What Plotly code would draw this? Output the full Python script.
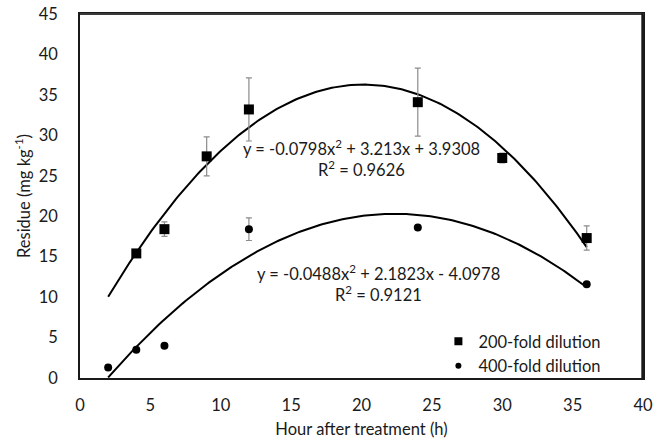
import numpy as np
import plotly.graph_objects as go

# Data
hours_200 = [4, 6, 9, 12, 24, 30, 36]
residue_200 = [15.4, 18.4, 27.4, 33.2, 34.1, 27.2, 17.3]
err_200 = [0.4, 0.9, 2.4, 3.9, 4.2, 0.6, 1.5]

hours_400 = [2, 4, 6, 12, 24, 36]
residue_400 = [1.3, 3.5, 4.0, 18.4, 18.6, 11.6]
err_400 = [0.0, 0.0, 0.0, 1.4, 0.0, 0.0]

# Trendline coefficients (a*x^2 + b*x + c) as shown on chart
coef_200 = [-0.0798, 3.213, 3.9308]
coef_400 = [-0.0488, 2.1823, -4.0978]
trend_range = [2, 36]

eq_200 = ["y = -0.0798x<sup>2</sup> + 3.213x + 3.9308", "R<sup>2</sup> = 0.9626"]
eq_400 = ["y = -0.0488x<sup>2</sup> + 2.1823x - 4.0978", "R<sup>2</sup> = 0.9121"]

x_ticks = [0, 5, 10, 15, 20, 25, 30, 35, 40]
y_ticks = [0, 5, 10, 15, 20, 25, 30, 35, 40, 45]

FONT = "Lato, 'Open Sans', sans-serif"
FS = 16.5
TXT = "#1a1a1a"

xt = np.linspace(trend_range[0], trend_range[1], 200)
def poly(c, x):
    return c[0] * x ** 2 + c[1] * x + c[2]

fig = go.Figure()
fig.add_trace(go.Scatter(x=xt, y=poly(coef_200, xt), mode="lines",
                         line=dict(color="black", width=2), showlegend=False, hoverinfo="skip"))
fig.add_trace(go.Scatter(x=xt, y=poly(coef_400, xt), mode="lines",
                         line=dict(color="black", width=2), showlegend=False, hoverinfo="skip"))

fig.add_trace(go.Scatter(
    x=hours_200, y=residue_200, mode="markers", name="200-fold dilution", showlegend=False,
    marker=dict(symbol="square", size=10, color="black"),
    error_y=dict(type="data", array=err_200, visible=True, color="#8c8c8c", thickness=1.2, width=3),
))
fig.add_trace(go.Scatter(
    x=hours_400, y=residue_400, mode="markers", name="400-fold dilution", showlegend=False,
    marker=dict(symbol="circle", size=8, color="black"),
    error_y=dict(type="data", array=err_400, visible=True, color="#8c8c8c", thickness=1.2, width=3),
))
# legend entries (smaller symbols, as in the reference legend)
fig.add_trace(go.Scatter(x=[None], y=[None], mode="markers", name="200-fold dilution",
                         marker=dict(symbol="square", size=8, color="black")))
fig.add_trace(go.Scatter(x=[None], y=[None], mode="markers", name="400-fold dilution",
                         marker=dict(symbol="circle", size=6, color="black")))

ann_font = dict(family=FONT, size=FS, color=TXT)
fig.add_annotation(x=20.0, y=28.4, text=eq_200[0], showarrow=False, font=ann_font)
fig.add_annotation(x=20.0, y=25.8, text=eq_200[1], showarrow=False, font=ann_font)
fig.add_annotation(x=21.2, y=13.0, text=eq_400[0], showarrow=False, font=ann_font)
fig.add_annotation(x=21.2, y=10.4, text=eq_400[1], showarrow=False, font=ann_font)

# plot-area frame (top and right edges)
fig.add_shape(type="line", xref="paper", yref="paper", x0=0, y0=1, x1=1.001, y1=1,
              line=dict(color="#3a3a3a", width=2), layer="above")
fig.add_shape(type="rect", xref="paper", yref="paper", x0=0.997, y0=-0.002, x1=1.0, y1=1.002,
              fillcolor="#1a1a1a", line=dict(width=0), layer="above")

fig.update_layout(
    width=665, height=439,
    margin=dict(l=80, r=22, t=14, b=61),
    paper_bgcolor="white", plot_bgcolor="white",
    font=dict(family=FONT, size=FS, color=TXT),
    legend=dict(x=0.935, y=-0.014, xanchor="right", yanchor="bottom",
                bgcolor="rgba(255,255,255,0)", borderwidth=0,
                font=dict(family=FONT, size=FS), itemsizing="trace",
                itemwidth=30, tracegroupgap=0),
    xaxis=dict(range=[0, 40], tickvals=x_ticks, showgrid=False, zeroline=False,
               showline=True, linecolor="#1a1a1a", linewidth=1.5, mirror=True,
               ticks="", ticklabelstandoff=11, tickfont=dict(size=FS), automargin=False,
               title=dict(text="Hour after treatment (h)", standoff=10, font=dict(size=FS))),
    yaxis=dict(range=[0, 45], tickvals=y_ticks, showgrid=False, zeroline=False,
               showline=True, linecolor="#1a1a1a", linewidth=1.5, mirror=True,
               ticks="", ticklabelstandoff=17, tickfont=dict(size=FS), automargin=False,
               title=dict(text="Residue (mg kg<sup>-1</sup>)", standoff=4, font=dict(size=FS))),
)

fig.write_html("out.html", config={"displayModeBar": False},
               post_script="document.body.style.margin='0';document.body.style.overflow='hidden';")
